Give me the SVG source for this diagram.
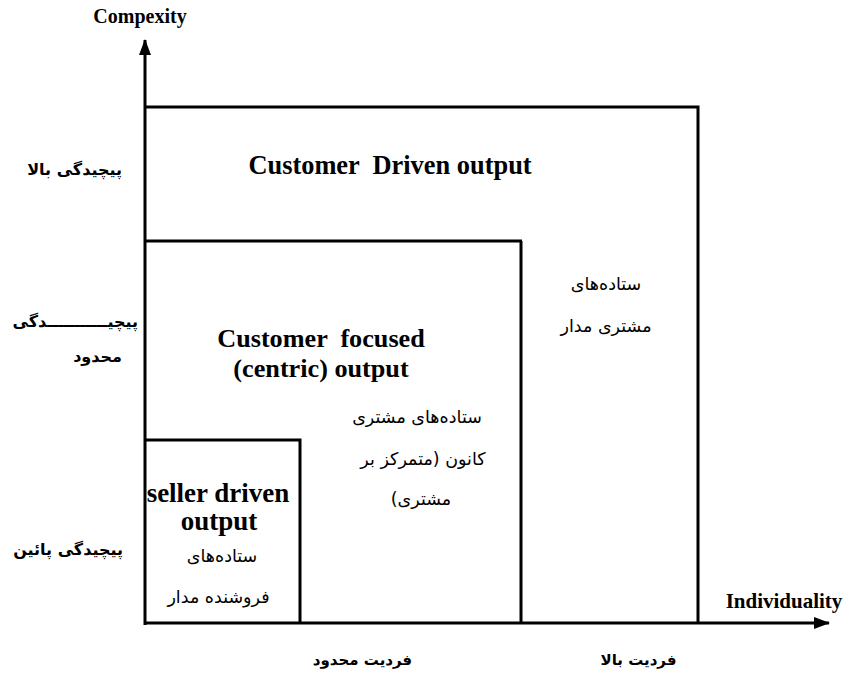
<svg xmlns="http://www.w3.org/2000/svg" width="846" height="674" viewBox="0 0 846 674">
<style>
.ln{fill:none;stroke:#000;stroke-width:3}
.en{font-family:"Liberation Serif","Times New Roman",serif;font-weight:bold;fill:#000;text-anchor:middle}
.fa{font-family:"DejaVu Sans",sans-serif;font-size:17.5px;fill:#000;text-anchor:middle}
.fab{font-family:"DejaVu Sans",sans-serif;font-size:16px;font-weight:bold;fill:#000}
.r{text-anchor:end}
.m{text-anchor:middle}
.fb15{font-size:15px}
</style>
<defs>
<marker id="ah" markerWidth="16" markerHeight="12" refX="15" refY="6" orient="auto" markerUnits="userSpaceOnUse">
<path d="M0,0 L16,6 L0,12 Z" fill="#000"/>
</marker>
</defs>
<rect width="846" height="674" fill="#fff"/>
<g id="outer-box">
<polyline class="ln" points="145,107 698,107 698,623"/>
<text class="en" x="390" y="174" font-size="26.4" xml:space="preserve">Customer  Driven output</text>
<text class="fa" x="606" y="290">ستاده&#x200C;های</text>
<text class="fa" x="606" y="332">مشتری مدار</text>
</g>
<g id="middle-box">
<polyline class="ln" points="145,241 522,241"/>
<line class="ln" x1="521" y1="241" x2="521" y2="623"/>
<text class="en" x="321" y="347" font-size="26.2" xml:space="preserve">Customer  focused</text>
<text class="en" x="321" y="377" font-size="26.2">(centric) output</text>
<text class="fa" x="417" y="423" direction="rtl">ستاده&#x200C;های مشتری</text>
<text class="fa" x="423" y="465" direction="rtl">کانون (متمرکز بر</text>
<text class="fa" x="421" y="505" direction="rtl">مشتری)</text>
</g>
<g id="small-box">
<polyline class="ln" points="145,440 300,440 300,623"/>
<text class="en" x="218" y="502" font-size="27">seller driven</text>
<text class="en" x="219" y="530" font-size="27">output</text>
<text class="fa" x="222" y="562">ستاده&#x200C;های</text>
<text class="fa" x="218.5" y="603">فروشنده مدار</text>
</g>
<g id="axes">
<line class="ln" x1="145" y1="625" x2="145" y2="40" marker-end="url(#ah)"/>
<line class="ln" x1="144" y1="623" x2="829" y2="623" marker-end="url(#ah)"/>
</g>
<g id="axis-labels">
<text class="en" x="140" y="23" font-size="20">Compexity</text>
<text class="en" x="784" y="608" font-size="21">Individuality</text>
<text class="fab r" x="122" y="175">پیچیدگی بالا</text>
<text class="fab r" x="138" y="327">پیچیـــــــــــدگی</text>
<text class="fab r" x="122" y="362">محدود</text>
<text class="fab r" x="123" y="555">پیچیدگی پائین</text>
<text class="fab m fb15" x="362.5" y="665">فردیت محدود</text>
<text class="fab m fb15" x="638.5" y="665">فردیت بالا</text>
</g>
</svg>
